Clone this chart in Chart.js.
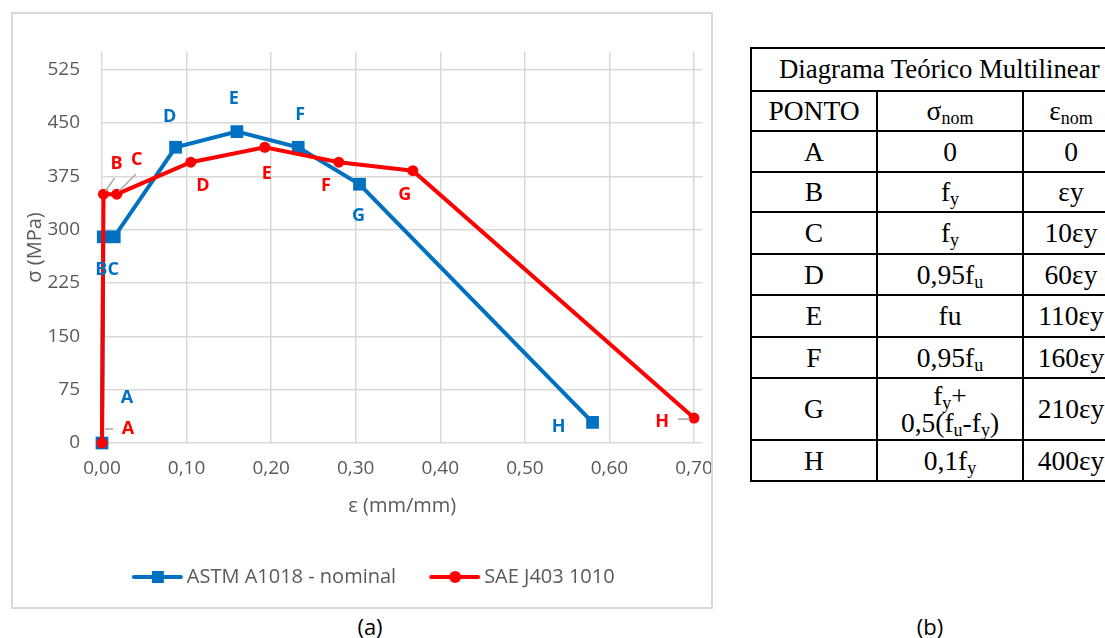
<!DOCTYPE html>
<html lang="pt-BR">
<head>
<meta charset="UTF-8">
<title>Diagrama tensão x deformação</title>
<script src="https://cdn.jsdelivr.net/npm/chart.js"></script>
<style>
  body { margin: 0; background: #fff; width: 1105px; height: 638px; overflow: hidden; position: relative; }
  #grafico { position: absolute; left: 11px; top: 12px; display: block; }
  #moldura { position: absolute; left: 11px; top: 12px; width: 702px; height: 597px; border: 2px solid #d9d9d9; box-sizing: border-box; pointer-events: none; }
  .legenda { position: absolute; top: 611px; width: 60px; text-align: center; font: 22px "Open Sans", sans-serif; color: #000; }
  table { position: absolute; left: 750px; top: 47px; width: 368px; border-collapse: collapse; font-family: "Liberation Serif", "Times New Roman", serif; font-size: 27.5px; color: #000; table-layout: fixed; }
  td { border: 2px solid #000; text-align: center; padding: 0; line-height: 1; }
  td.titulo { font-size: 26.8px; text-align: left; padding-left: 27px; white-space: nowrap; }
  sub { font-size: 18px; vertical-align: -4px; line-height: 0; }
</style>
</head>
<body>
<canvas id="grafico" width="702" height="597"></canvas>
<div id="moldura"></div>
<div class="legenda" style="left:340px">(a)</div>
<div class="legenda" style="left:900px">(b)</div>

<table>
  <colgroup><col style="width:126px"><col style="width:146px"><col style="width:96px"></colgroup>
  <tr style="height:43px"><td class="titulo" colspan="3">Diagrama Teórico Multilinear</td></tr>
  <tr style="height:40px"><td>PONTO</td><td>σ<sub>nom</sub></td><td>ε<sub>nom</sub></td></tr>
  <tr style="height:41px"><td>A</td><td>0</td><td>0</td></tr>
  <tr style="height:40px"><td>B</td><td>f<sub>y</sub></td><td>εy</td></tr>
  <tr style="height:42px"><td>C</td><td>f<sub>y</sub></td><td>10εy</td></tr>
  <tr style="height:41px"><td>D</td><td>0,95f<sub>u</sub></td><td>60εy</td></tr>
  <tr style="height:42px"><td>E</td><td>fu</td><td>110εy</td></tr>
  <tr style="height:41px"><td>F</td><td>0,95f<sub>u</sub></td><td>160εy</td></tr>
  <tr style="height:62px"><td>G</td><td>f<sub>y</sub>+<br>0,5(f<sub>u</sub>-f<sub>y</sub>)</td><td>210εy</td></tr>
  <tr style="height:41px"><td>H</td><td>0,1f<sub>y</sub></td><td>400εy</td></tr>
</table>

<script>
// pontos do diagrama multilinear (A..H)
const pontos = ['A', 'B', 'C', 'D', 'E', 'F', 'G', 'H'];

// ASTM A1018 - nominal
const astmDef = [0, 0.00145, 0.0145, 0.087, 0.1595, 0.232, 0.3045, 0.58];
const astmTensao = [0, 290, 290, 416, 438, 416, 364, 29];

// SAE J403 1010
const saeDef = [0, 0.00175, 0.0175, 0.105, 0.1925, 0.28, 0.3675, 0.70];
const saeTensao = [0, 350, 350, 395, 416, 395, 383, 35];

const ticksY = [0, 75, 150, 225, 300, 375, 450, 525];
const ticksX = [0, 0.1, 0.2, 0.3, 0.4, 0.5, 0.6, 0.7];

const AZUL = '#0070c0';
const VERMELHO = '#ff0000';

// deslocamento (px) de cada rótulo em relação ao ponto
const posRotuloAstm = [[25, -45], [-2, 33], [-1, 33], [-6, -30], [-3, -33], [2, -32], [-1, 32], [-34, 4]];
const posRotuloSae = [[26, -14], [13, -30], [20, -34], [12, 24], [2, 27], [-13, 24], [-8, 24], [-32, 4]];
// linhas de chamada dos rótulos (x1, y1, x2, y2 relativos ao ponto)
const chamadasSae = { 0: [3, -14, 11, -14], 1: [2, -3, 11, -16], 2: [2, -3, 19, -20], 7: [-16, 1, -4, 1] };

const pares = (xs, ys) => xs.map((x, i) => ({ x: x, y: ys[i] }));

function marcaLegenda(cor, estilo) {
  const c = document.createElement('canvas');
  c.width = 80; c.height = 16;
  const g = c.getContext('2d');
  g.strokeStyle = cor; g.fillStyle = cor; g.lineWidth = 4; g.lineCap = 'round';
  g.beginPath(); g.moveTo(30, 8); g.lineTo(77, 8); g.stroke();
  if (estilo === 'rect') {
    g.fillRect(48, 2, 12, 12);
  } else {
    g.beginPath(); g.arc(54, 8, 6, 0, Math.PI * 2); g.fill();
  }
  return c;
}

const rotulos = {
  id: 'rotulos',
  afterDatasetsDraw(chart) {
    const ctx = chart.ctx;
    const sx = chart.scales.x, sy = chart.scales.y;
    const series = [
      { xs: astmDef, ys: astmTensao, cor: AZUL, pos: posRotuloAstm, chamadas: {} },
      { xs: saeDef, ys: saeTensao, cor: VERMELHO, pos: posRotuloSae, chamadas: chamadasSae }
    ];
    ctx.save();
    series.forEach(s => {
      s.xs.forEach((v, i) => {
        const px = sx.getPixelForValue(v);
        const py = sy.getPixelForValue(s.ys[i]);
        const c = s.chamadas[i];
        if (c) {
          ctx.strokeStyle = '#a6a6a6';
          ctx.lineWidth = 1.5;
          ctx.beginPath();
          ctx.moveTo(px + c[0], py + c[1]);
          ctx.lineTo(px + c[2], py + c[3]);
          ctx.stroke();
        }
        ctx.fillStyle = s.cor;
        ctx.font = 'bold 18px "Open Sans", sans-serif';
        ctx.textAlign = 'center';
        ctx.textBaseline = 'middle';
        ctx.fillText(pontos[i], px + s.pos[i][0], py + s.pos[i][1]);
      });
    });
    ctx.restore();
  }
};

const fonteEixo = { family: '"Open Sans", sans-serif', size: 20 };
const fonteTick = { family: '"Open Sans", sans-serif', size: 19 };

new Chart(document.getElementById('grafico'), {
  type: 'scatter',
  data: {
    datasets: [{
      label: 'ASTM A1018 - nominal',
      data: pares(astmDef, astmTensao),
      showLine: true,
      borderColor: AZUL,
      backgroundColor: AZUL,
      borderWidth: 4,
      pointStyle: 'rect',
      pointRadius: 9,
      pointBorderWidth: 0,
      pointHoverRadius: 9,
      order: 1,
      clip: false
    }, {
      label: 'SAE J403 1010',
      data: pares(saeDef, saeTensao),
      showLine: true,
      borderColor: VERMELHO,
      backgroundColor: VERMELHO,
      borderWidth: 4,
      pointStyle: 'circle',
      pointRadius: 5.5,
      pointBorderWidth: 0,
      pointHoverRadius: 5.5,
      order: 0,
      clip: false
    }]
  },
  options: {
    responsive: false,
    animation: false,
    layout: { padding: { left: 12, right: 10.5, top: 40, bottom: 12 } },
    plugins: {
      tooltip: { enabled: false },
      legend: {
        position: 'bottom',
        labels: {
          font: fonteEixo,
          color: '#595959',
          usePointStyle: true,
          pointStyleWidth: 66,
          padding: 12,
          sort: (a, b) => a.datasetIndex - b.datasetIndex,
          generateLabels: chart => Chart.defaults.plugins.legend.labels.generateLabels(chart).map(item => {
            item.pointStyle = item.datasetIndex === 0 ? marcaLegenda(AZUL, 'rect') : marcaLegenda(VERMELHO, 'circle');
            return item;
          })
        }
      }
    },
    scales: {
      x: {
        type: 'linear',
        min: 0,
        max: 0.71,
        afterFit: s => { s.height = 112; s.paddingLeft = 0; s.paddingRight = 0; },
        afterBuildTicks: s => { s.ticks = ticksX.map(v => ({ value: v })); },
        grid: { color: '#d9d9d9', lineWidth: 1.5, drawTicks: false },
        border: { display: false },
        ticks: {
          padding: 14,
          color: '#595959',
          font: fonteTick,
          callback: v => v.toFixed(2).replace('.', ',')
        },
        title: { display: true, text: 'ε (mm/mm)', color: '#595959', font: fonteEixo, padding: { bottom: 37 } }
      },
      y: {
        type: 'linear',
        min: 0,
        max: 550,
        afterFit: s => { s.width = 79; s.paddingTop = 0; s.paddingBottom = 0; },
        afterBuildTicks: s => { s.ticks = ticksY.map(v => ({ value: v })); },
        grid: { color: '#d9d9d9', lineWidth: 1.5, drawTicks: false },
        border: { display: false },
        ticks: { padding: 22, color: '#595959', font: fonteTick },
        title: { display: true, text: 'σ (MPa)', color: '#595959', font: fonteEixo, padding: { top: 0 } }
      }
    }
  },
  plugins: [rotulos]
});
</script>
</body>
</html>
